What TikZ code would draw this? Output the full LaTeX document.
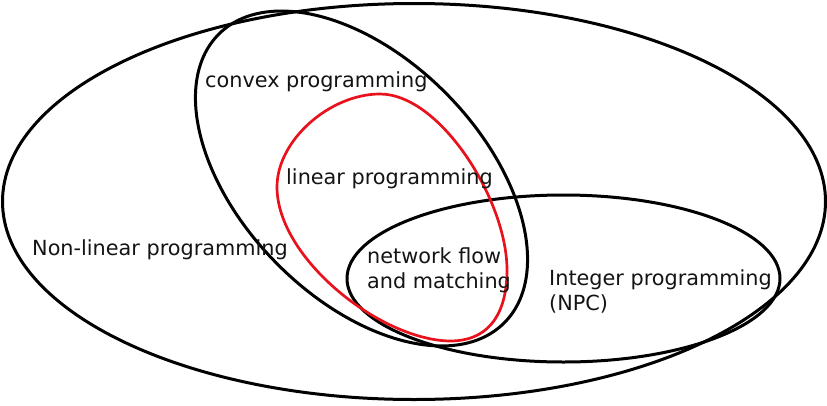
\documentclass[tikz,border=0pt]{standalone}
\usepackage{fontspec}
\setmainfont{DejaVu Sans}
\begin{document}
\begin{tikzpicture}[x=1pt,y=-1pt,
  setline/.style={line width=3pt, black},
  lpline/.style={line width=2.7pt, color={rgb,255:red,232;green,18;blue,28}},
  lbl/.style={inner sep=0pt, anchor=base west, align=left, font=\fontsize{20.8}{25}\selectfont, text={rgb,255:red,20;green,20;blue,20}}]
\useasboundingbox (0,0) rectangle (827,405);
% Non-linear programming (outer)
\draw[setline] (414,201.5) ellipse [x radius=411.5, y radius=198];
% convex programming
\draw[setline, rotate around={-45.5:(361.5,178.5)}] (361.5,178.5) ellipse [x radius=203, y radius=120];
% integer programming
\draw[setline] (563.5,278.5) ellipse [x radius=216.5, y radius=83.5];
% linear programming (red)
\coordinate (lpT) at (380,94);
\coordinate (lpL) at (277,187);
\coordinate (lpB) at (450,341);
\coordinate (lpR) at (507,270);
\draw[lpline] (lpT) .. controls (330,94) and (277,140) .. (lpL)
  .. controls (277,258) and (380,340) .. (lpB)
  .. controls (495,341) and (507,305) .. (lpR)
  .. controls (507,200) and (440,94) .. (lpT) -- cycle;
% labels
\node[lbl] (nonlin) at (32,255) {Non-linear programming};
\node[lbl] (convex) at (205,87) {convex programming};
\node[lbl] (linear) at (286,184) {linear programming};
\node[lbl] (network) at (367,288) {network flow\\and matching};
\node[lbl] (integer) at (549,310) {Integer programming\\(NPC)};
\end{tikzpicture}
\end{document}
